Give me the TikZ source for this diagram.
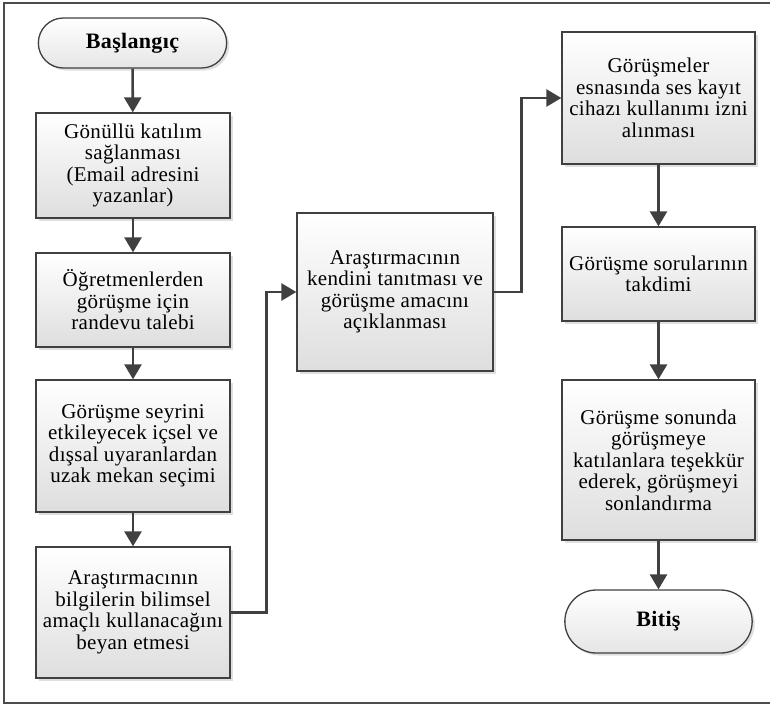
\documentclass[tikz,border=0pt]{standalone}
\usepackage{fontspec}
\setmainfont{Liberation Serif}[LetterSpace=1.5]
\usetikzlibrary{arrows.meta,shapes.misc,shadows}

\begin{document}
\begin{tikzpicture}[x=1pt,y=-1pt,
  flowbox/.style={rectangle,draw=black!75,line width=1.3pt,top color=white,bottom color=black!13,
    drop shadow={shadow xshift=2.5pt,shadow yshift=-2.5pt,opacity=0.25},
    align=center,inner sep=3pt,font=\fontsize{21}{21.5}\selectfont},
  termbox/.style={rounded rectangle,draw=black!75,line width=1.3pt,top color=white,bottom color=black!10,
    drop shadow={shadow xshift=2.5pt,shadow yshift=-2.5pt,opacity=0.25},
    font=\fontsize{22}{22}\selectfont\bfseries},
  arrowline/.style={draw=black!75,line width=2.6pt,-{Triangle[length=15pt,width=17pt]}}]
\useasboundingbox (0,0) rectangle (770,707);
\draw[black!70,line width=1.4pt] (775,3) -- (4,3) -- (4,703) -- (775,703);

\node[termbox,minimum width=195pt,minimum height=50pt] (start) at (132.5,43) {Başlangıç};
\node[flowbox,minimum width=194pt,minimum height=105pt] (gonullu) at (133,165.5) {Gönüllü katılım\\sağlanması\\(Email adresini\\yazanlar)};
\node[flowbox,minimum width=194pt,minimum height=94pt] (randevu) at (133,300) {Öğretmenlerden\\görüşme için\\randevu talebi};
\node[flowbox,minimum width=194pt,minimum height=132pt] (mekan) at (133,446) {Görüşme seyrini\\etkileyecek içsel ve\\dışsal uyaranlardan\\uzak mekan seçimi};
\node[flowbox,minimum width=194pt,minimum height=131pt] (beyan) at (133,612.5) {Araştırmacının\\bilgilerin bilimsel\\amaçlı kullanacağını\\beyan etmesi};
\node[flowbox,minimum width=196pt,minimum height=158pt] (tanitma) at (395,292) {Araştırmacının\\kendini tanıtması ve\\görüşme amacını\\açıklanması};
\node[flowbox,minimum width=193pt,minimum height=132pt] (kayit) at (658.5,98) {Görüşmeler\\esnasında ses kayıt\\cihazı kullanımı izni\\alınması};
\node[flowbox,minimum width=193pt,minimum height=94pt] (sorular) at (658.5,274) {Görüşme sorularının\\takdimi};
\node[flowbox,minimum width=193pt,minimum height=160pt] (tesekkur) at (658.5,460) {Görüşme sonunda\\görüşmeye\\katılanlara teşekkür\\ederek, görüşmeyi\\sonlandırma};
\node[termbox,minimum width=194pt,minimum height=63pt] (stop) at (658.5,621.5) {Bitiş};

\draw[arrowline] (start) -- (gonullu);
\draw[arrowline] (gonullu) -- (randevu);
\draw[arrowline] (randevu) -- (mekan);
\draw[arrowline] (mekan) -- (beyan);
\draw[arrowline] (beyan.east) -- ++(36,0) |- (tanitma.west);
\draw[arrowline] (tanitma.east) -- ++(28,0) |- (kayit.west);
\draw[arrowline] (kayit) -- (sorular);
\draw[arrowline] (sorular) -- (tesekkur);
\draw[arrowline] (tesekkur) -- (stop);
\end{tikzpicture}
\end{document}
